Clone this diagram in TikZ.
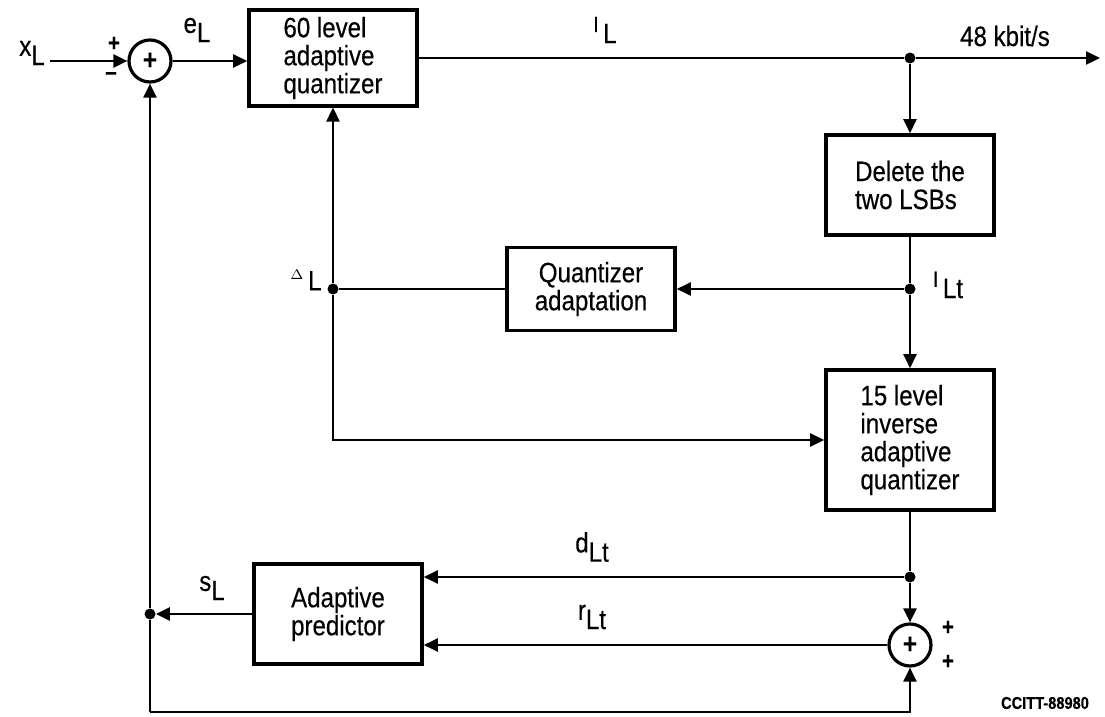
\documentclass[tikz,border=0pt]{standalone}
\usepackage{fontspec}
\setmainfont{Liberation Sans}[FakeStretch=0.86, FakeBold=0.35]
\usetikzlibrary{arrows.meta}
\tikzset{
  block/.style={draw, line width=1.8pt, minimum width=84pt, align=left,
    font=\fontsize{14}{14}\selectfont},
  summer/.style={draw, circle, line width=1.6pt, minimum size=21pt, inner sep=0pt,
    font=\fontsize{14}{14}\selectfont\bfseries},
  dot/.style={circle, fill, inner sep=0pt, minimum size=5.5pt},
  sig/.style={font=\fontsize{14}{14}\selectfont},
  pm/.style={font=\fontsize{12}{12}\selectfont\bfseries, inner sep=0pt},
  wire/.style={line width=1.2pt, -{Triangle[length=7pt,width=6.5pt]}},
  line/.style={line width=1.2pt}
}
\newcommand{\sgn}[2]{\raisebox{0.33em}{#1}#2}
\newcommand{\sgc}[2]{\raisebox{0.4em}{\fontsize{11}{11}\selectfont #1}\,#2}

\begin{document}
\begin{tikzpicture}[x=0.5pt,y=-0.5pt]
    \useasboundingbox (0,0) rectangle (1105,717);
    % blocks
    \node[block, minimum height=42.5pt] (quant) at (333,58) {60 level\\adaptive\\quantizer};
    \node[block, minimum height=50pt] (del) at (910,185) {Delete the\\two LSBs};
    \node[block, minimum height=41.5pt, align=center] (adapt) at (591,289) {Quantizer\\adaptation};
    \node[block, minimum height=70pt] (inv) at (910,440) {15 level\\inverse\\adaptive\\quantizer};
    \node[block, minimum height=50pt] (pred) at (338,614) {Adaptive\\predictor};
    \node[summer] (sum1) at (150,61) {+};
    \node[summer] (sum2) at (910,645) {+};
    % junctions
    \node[dot] (tdot) at (910,58) {};
    \node[dot] (ldot) at (910,289) {};
    \node[dot] (qdot) at (333,289) {};
    \node[dot] (ddot) at (910,577) {};
    \node[dot] (sdot) at (150,614) {};
    \coordinate (out) at (1100,58);
    \coordinate (bl) at (150,712);
    % signal labels
    \node[sig, inner sep=1pt] (xl) at (32,53) {\sgn{x}{L}};
    \coordinate (xin) at (50,61);
    \node[sig] (el) at (197,30) {\sgn{e}{L}};
    \node[sig] (il) at (605,30) {\sgc{I}{L}};
    \node[sig] (rate) at (1005,36) {48 kbit/s};
    \node[sig] (ilt) at (948,285) {\sgc{I}{Lt}};
    \node[sig] (dl) at (306,280) {\raisebox{0.4em}{\scriptsize$\Delta$}\,L};
    \node[sig] (dlt) at (592,547) {\sgn{d}{Lt}};
    \node[sig] (rlt) at (592,617) {\sgn{r}{Lt}};
    \node[sig] (sl) at (212,588) {\sgn{s}{L}};
    \node[pm] (p1) at (114,44) {+};
    \node[pm] (m1) at (111,76) {--};
    \node[pm] (p2) at (948,628) {+};
    \node[pm] (p3) at (948,662) {+};
    \node[font=\fontsize{8.5}{8.5}\selectfont\bfseries] (tag) at (1045,703) {CCITT-88980};
    % forward path
    \draw[wire] (xin) -- (sum1);
    \draw[wire] (sum1) -- (sum1 -| quant.west);
    \draw[line] (quant) -- (tdot);
    \draw[wire] (tdot) -- (out);
    \draw[wire] (tdot) -- (del);
    \draw[line] (del) -- (ldot);
    \draw[wire] (ldot) -- (adapt);
    \draw[wire] (ldot) -- (inv);
    \draw[line] (adapt) -- (qdot);
    \draw[wire] (qdot) -- (quant);
    \draw[wire] (qdot) |- (inv);
    % reconstruction and prediction
    \draw[line] (inv) -- (ddot);
    \draw[wire] (ddot) -- (ddot -| pred.east);
    \draw[wire] (ddot) -- (sum2);
    \draw[wire] (sum2) -- (sum2 -| pred.east);
    \draw[wire] (pred) -- (sdot);
    \draw[wire] (sdot) -- (sum1);
    \draw[line] (sdot) -- (bl);
    \draw[wire] (bl) -| (sum2);
\end{tikzpicture}
\end{document}
